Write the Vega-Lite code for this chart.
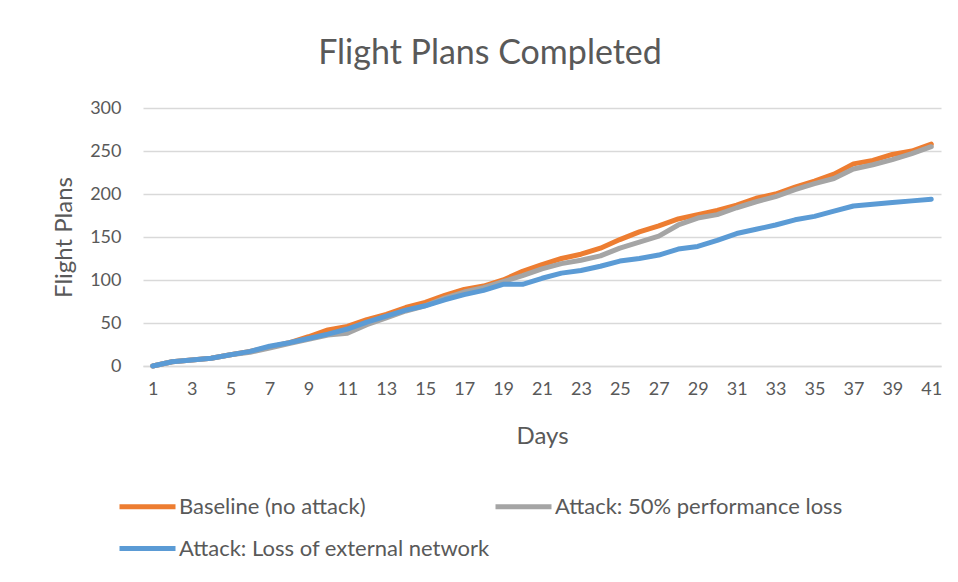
{
  "$schema": "https://vega.github.io/schema/vega-lite/v6.json",
  "width": 798,
  "height": 258,
  "autosize": {"type": "none"},
  "padding": {"left": 143, "top": 108, "right": 17, "bottom": 216},
  "background": "white",
  "config": {
    "font": "Lato",
    "view": {"stroke": null},
    "axis": {"labelColor": "#595959", "titleColor": "#595959", "labelFontSize": 18, "titleFontSize": 24, "titleFontWeight": "normal", "labelFont": "Lato", "titleFont": "Lato"}
  },
  "title": {"text": "Flight Plans Completed", "fontSize": 34, "fontWeight": "normal", "color": "#595959", "font": "Lato", "anchor": "middle", "offset": 28, "dx": -52},
  "datasets": {
    "rows": [
      {"day":1,"Baseline (no attack)":0,"Attack: 50% performance loss":0,"Attack: Loss of external network":0},
      {"day":2,"Baseline (no attack)":5,"Attack: 50% performance loss":5,"Attack: Loss of external network":5},
      {"day":3,"Baseline (no attack)":7,"Attack: 50% performance loss":7,"Attack: Loss of external network":7},
      {"day":4,"Baseline (no attack)":9,"Attack: 50% performance loss":9,"Attack: Loss of external network":9},
      {"day":5,"Baseline (no attack)":13,"Attack: 50% performance loss":13,"Attack: Loss of external network":13},
      {"day":6,"Baseline (no attack)":17,"Attack: 50% performance loss":16,"Attack: Loss of external network":17},
      {"day":7,"Baseline (no attack)":22,"Attack: 50% performance loss":21,"Attack: Loss of external network":23},
      {"day":8,"Baseline (no attack)":27,"Attack: 50% performance loss":26,"Attack: Loss of external network":27},
      {"day":9,"Baseline (no attack)":34,"Attack: 50% performance loss":31,"Attack: Loss of external network":32},
      {"day":10,"Baseline (no attack)":42,"Attack: 50% performance loss":36,"Attack: Loss of external network":37},
      {"day":11,"Baseline (no attack)":46,"Attack: 50% performance loss":38,"Attack: Loss of external network":43},
      {"day":12,"Baseline (no attack)":54,"Attack: 50% performance loss":48,"Attack: Loss of external network":51},
      {"day":13,"Baseline (no attack)":60,"Attack: 50% performance loss":56,"Attack: Loss of external network":58},
      {"day":14,"Baseline (no attack)":68,"Attack: 50% performance loss":64,"Attack: Loss of external network":65},
      {"day":15,"Baseline (no attack)":74,"Attack: 50% performance loss":70,"Attack: Loss of external network":70},
      {"day":16,"Baseline (no attack)":82,"Attack: 50% performance loss":79,"Attack: Loss of external network":77},
      {"day":17,"Baseline (no attack)":89,"Attack: 50% performance loss":86,"Attack: Loss of external network":83},
      {"day":18,"Baseline (no attack)":93,"Attack: 50% performance loss":91,"Attack: Loss of external network":88},
      {"day":19,"Baseline (no attack)":100,"Attack: 50% performance loss":98,"Attack: Loss of external network":95},
      {"day":20,"Baseline (no attack)":110,"Attack: 50% performance loss":105,"Attack: Loss of external network":95},
      {"day":21,"Baseline (no attack)":118,"Attack: 50% performance loss":113,"Attack: Loss of external network":102},
      {"day":22,"Baseline (no attack)":125,"Attack: 50% performance loss":119,"Attack: Loss of external network":108},
      {"day":23,"Baseline (no attack)":130,"Attack: 50% performance loss":123,"Attack: Loss of external network":111},
      {"day":24,"Baseline (no attack)":137,"Attack: 50% performance loss":128,"Attack: Loss of external network":116},
      {"day":25,"Baseline (no attack)":147,"Attack: 50% performance loss":137,"Attack: Loss of external network":122},
      {"day":26,"Baseline (no attack)":156,"Attack: 50% performance loss":144,"Attack: Loss of external network":125},
      {"day":27,"Baseline (no attack)":163,"Attack: 50% performance loss":151,"Attack: Loss of external network":129},
      {"day":28,"Baseline (no attack)":171,"Attack: 50% performance loss":164,"Attack: Loss of external network":136},
      {"day":29,"Baseline (no attack)":176,"Attack: 50% performance loss":172,"Attack: Loss of external network":139},
      {"day":30,"Baseline (no attack)":181,"Attack: 50% performance loss":176,"Attack: Loss of external network":146},
      {"day":31,"Baseline (no attack)":187,"Attack: 50% performance loss":184,"Attack: Loss of external network":154},
      {"day":32,"Baseline (no attack)":195,"Attack: 50% performance loss":191,"Attack: Loss of external network":159},
      {"day":33,"Baseline (no attack)":200,"Attack: 50% performance loss":197,"Attack: Loss of external network":164},
      {"day":34,"Baseline (no attack)":208,"Attack: 50% performance loss":205,"Attack: Loss of external network":170},
      {"day":35,"Baseline (no attack)":215,"Attack: 50% performance loss":212,"Attack: Loss of external network":174},
      {"day":36,"Baseline (no attack)":223,"Attack: 50% performance loss":218,"Attack: Loss of external network":180},
      {"day":37,"Baseline (no attack)":235,"Attack: 50% performance loss":229,"Attack: Loss of external network":186},
      {"day":38,"Baseline (no attack)":239,"Attack: 50% performance loss":234,"Attack: Loss of external network":188},
      {"day":39,"Baseline (no attack)":246,"Attack: 50% performance loss":240,"Attack: Loss of external network":190},
      {"day":40,"Baseline (no attack)":250,"Attack: 50% performance loss":247,"Attack: Loss of external network":192},
      {"day":41,"Baseline (no attack)":258,"Attack: 50% performance loss":255,"Attack: Loss of external network":194}
    ]
  },
  "data": {"name": "rows"},
  "transform": [
    {"fold": ["Baseline (no attack)", "Attack: 50% performance loss", "Attack: Loss of external network"], "as": ["series", "value"]},
    {"calculate": "indexof(['Baseline (no attack)','Attack: 50% performance loss','Attack: Loss of external network'], datum.series)", "as": "ord"}
  ],
  "mark": {"type": "line", "strokeWidth": 5, "strokeCap": "round", "strokeJoin": "round"},
  "encoding": {
    "x": {
      "field": "day", "type": "quantitative",
      "scale": {"domain": [0.5, 41.5], "nice": false, "zero": false},
      "axis": {"values": [1,3,5,7,9,11,13,15,17,19,21,23,25,27,29,31,33,35,37,39,41], "grid": false, "ticks": false, "domain": true, "domainColor": "#d9d9d9", "domainWidth": 1.5, "labelPadding": 14, "title": "Days", "titlePadding": 26, "labelFlush": false}
    },
    "y": {
      "field": "value", "type": "quantitative",
      "scale": {"domain": [0, 300], "nice": false},
      "axis": {"values": [0,50,100,150,200,250,300], "grid": true, "gridColor": "#d9d9d9", "gridWidth": 1.5, "domain": false, "ticks": false, "labelPadding": 22, "title": "Flight Plans", "titlePadding": 13}
    },
    "color": {
      "field": "series", "type": "nominal",
      "sort": ["Baseline (no attack)", "Attack: 50% performance loss", "Attack: Loss of external network"],
      "scale": {"domain": ["Baseline (no attack)", "Attack: 50% performance loss", "Attack: Loss of external network"], "range": ["#ED7D31", "#A5A5A5", "#5B9BD5"]},
      "legend": {"title": null, "orient": "none", "legendX": -26, "legendY": 368, "columns": 2, "direction": "horizontal", "symbolType": "stroke", "symbolSize": 3136, "symbolStrokeWidth": 5, "labelFontSize": 22, "labelColor": "#595959", "labelFont": "Lato", "labelOffset": 1, "rowPadding": -12, "columnPadding": -5, "labelLimit": 400}
    },
    "order": {"field": "ord", "type": "quantitative"}
  }
}
